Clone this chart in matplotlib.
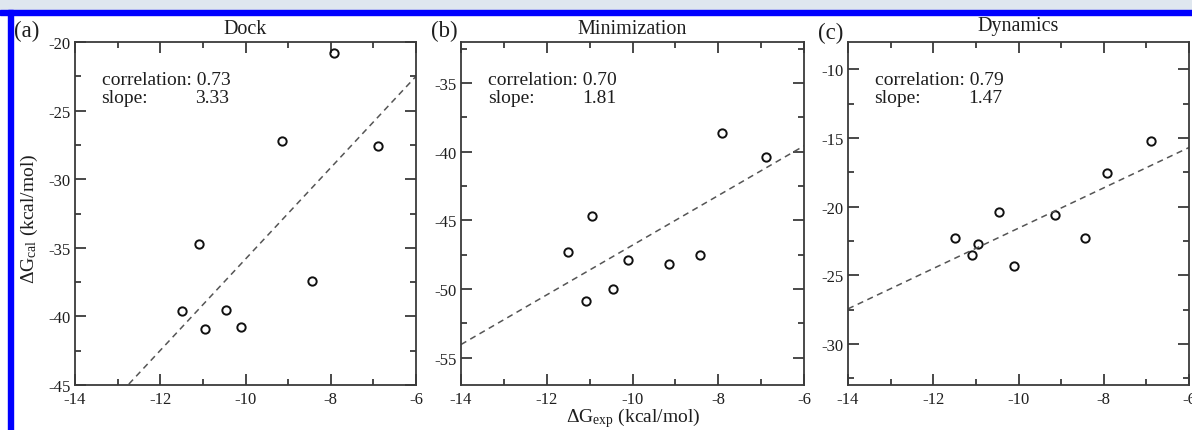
import matplotlib
matplotlib.use("Agg")
import matplotlib.pyplot as plt
from matplotlib.ticker import MultipleLocator
from matplotlib.patches import Rectangle
import numpy as np

#Experimental binding energies (same for all panels)
dGexp = [-11.5, -11.08, -10.95, -10.46, -10.1, -9.14, -8.43, -7.92, -6.88]
#Calculated binding energies per protocol
dock = [-39.6, -34.7, -40.9, -39.5, -40.8, -27.2, -37.4, -20.8, -27.6]
minimization = [-47.3, -50.9, -44.7, -50.0, -47.9, -48.2, -47.5, -38.6, -40.4]
dynamics = [-22.3, -23.5, -22.75, -20.4, -24.3, -20.6, -22.3, -17.55, -15.2]

panelNames = ["Dock", "Minimization", "Dynamics"]
panelTags = ["(a)", "(b)", "(c)"]
correlations = [0.73, 0.70, 0.79]
slopes = [3.33, 1.81, 1.47]
intercepts = [-2.52, -28.71, -6.87]
yLimits = [(-45, -20), (-57, -32), (-33, -8)]
xLimits = (-14, -6)

plt.rcParams['font.family'] = ['Liberation Serif', 'DejaVu Serif']
plt.rcParams['mathtext.fontset'] = 'custom'
plt.rcParams['mathtext.rm'] = 'Liberation Serif'
plt.rcParams['mathtext.it'] = 'Liberation Serif:italic'

W, H = 1192, 431
fig = plt.figure(figsize=(W/100, H/100), dpi=100)

#Frame of the page around the figure
fig.patches.append(Rectangle((0, 1-10/H), 1, 10/H, transform=fig.transFigure,
                             color='#dfe7ef', zorder=0))
fig.patches.append(Rectangle((0, 1-15.5/H), 1, 4.5/H, transform=fig.transFigure,
                             color='#0000ff', zorder=0))
fig.patches.append(Rectangle((8/W, 0), 5/W, 1-11/H, transform=fig.transFigure,
                             color='#0000ff', zorder=0))

#axes boxes in pixels: left, right
boxes = [(75, 416), (461, 804), (848, 1189)]
top, bottom = 43, 386
titleOffsets = [14, 14, 17]
tagX = [14, 431, 818]
tagY = [31.5, 31.5, 33]

allY = [dock, minimization, dynamics]
spineColor = '#3a3a3a'
textColor = '#1e1e1e'

for i in range(3):
    left, right = boxes[i]
    ax = fig.add_axes([left/W, 1-bottom/H, (right-left)/W, (bottom-top)/H])
    ax.plot(dGexp, allY[i], linestyle='None', marker='o', markersize=6,
            markerfacecolor='none', markeredgecolor='#111111', markeredgewidth=1.4)
    xFit = np.array(xLimits, dtype=float)
    ax.plot(xFit, slopes[i]*xFit + intercepts[i], linestyle=(0, (4, 3)),
            color='#555555', linewidth=1.1)
    ax.set_xlim(xLimits)
    ax.set_ylim(yLimits[i])
    ax.xaxis.set_major_locator(MultipleLocator(2))
    ax.xaxis.set_minor_locator(MultipleLocator(1))
    ax.yaxis.set_major_locator(MultipleLocator(5))
    ax.yaxis.set_minor_locator(MultipleLocator(2.5))
    ax.tick_params(which='both', direction='in', top=True, right=True,
                   color=spineColor, width=1.3, labelsize=12, labelcolor=textColor)
    ax.tick_params(which='major', length=8, pad=4)
    ax.tick_params(which='minor', length=4.5)
    ax.tick_params(axis='y', which='major', pad=3)
    for sp in ax.spines.values():
        sp.set_color(spineColor)
        sp.set_linewidth(1.3)
    ax.set_xticklabels([str(int(t)) for t in ax.get_xticks()])
    ax.set_yticklabels([str(int(t)) for t in ax.get_yticks()])

    #title above the box
    ax.text(0.5, 1+titleOffsets[i]/(bottom-top), panelNames[i], transform=ax.transAxes,
            ha='center', va='center', fontsize=14.5, color=textColor)
    #correlation and slope box
    ax.text(0.078, 0.892, "correlation: {:.2f}".format(correlations[i]),
            transform=ax.transAxes, ha='left', va='center', fontsize=14, color=textColor)
    ax.text(0.078, 0.838, "slope:", transform=ax.transAxes, ha='left', va='center',
            fontsize=14, color=textColor)
    ax.text(0.452, 0.838, "{:.2f}".format(slopes[i]), transform=ax.transAxes,
            ha='right', va='center', fontsize=14, color=textColor)

    fig.text(tagX[i]/W, 1-tagY[i]/H, panelTags[i], ha='left', va='center',
             fontsize=16.5, color=textColor)

fig.text(29/W, 1-219/H, r'$\Delta$G$_{\rm cal}$ (kcal/mol)', rotation=90,
         ha='center', va='center', fontsize=14, color=textColor)
fig.text(633/W, 1-418/H, r'$\Delta$G$_{\rm exp}$ (kcal/mol)',
         ha='center', va='center', fontsize=14, color=textColor)

fig.savefig("out.png", dpi=100)
